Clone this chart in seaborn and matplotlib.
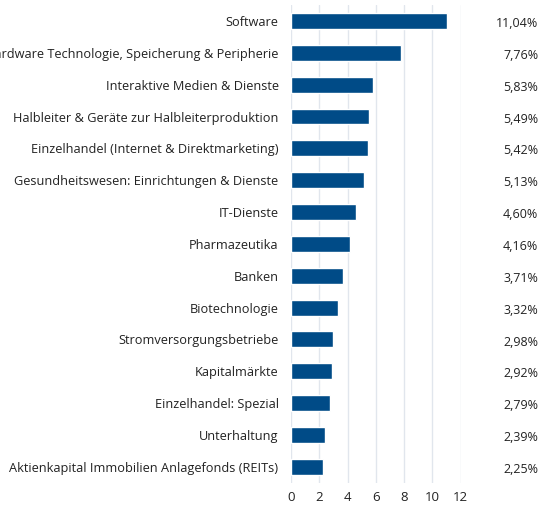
import matplotlib
matplotlib.use("Agg")
import matplotlib.pyplot as plt
import matplotlib.transforms as mtransforms
import seaborn as sns
import pandas as pd

# ----- DATEN -----
branchen = [
    "Software",
    "Hardware Technologie, Speicherung & Peripherie",
    "Interaktive Medien & Dienste",
    "Halbleiter & Geräte zur Halbleiterproduktion",
    "Einzelhandel (Internet & Direktmarketing)",
    "Gesundheitswesen: Einrichtungen & Dienste",
    "IT-Dienste",
    "Pharmazeutika",
    "Banken",
    "Biotechnologie",
    "Stromversorgungsbetriebe",
    "Kapitalmärkte",
    "Einzelhandel: Spezial",
    "Unterhaltung",
    "Aktienkapital Immobilien Anlagefonds (REITs)",
]
anteile = [11.04, 7.76, 5.83, 5.49, 5.42, 5.13, 4.60, 4.16, 3.71, 3.32, 2.98, 2.92, 2.79, 2.39, 2.25]
xticks = [0, 2, 4, 6, 8, 10, 12]

df = pd.DataFrame({"branche": branchen, "anteil": anteile})

# ----- PLOT -----
sns.set_style("white")
plt.rcParams["font.family"] = ["Open Sans", "DejaVu Sans"]

fig = plt.figure(figsize=(5.4, 5.05), dpi=100)
ax = fig.add_axes([0.539, 0.044, 0.314, 0.946])

sns.barplot(data=df, x="anteil", y="branche", color="#004b87", width=0.5,
            saturation=1, ax=ax)

ax.set_xlim(0, 12)
ax.set_ylim(14.5, -0.5)
ax.set_xticks(xticks)
ax.set_xticklabels([str(t) for t in xticks], fontsize=9.5, color="#222222")
ax.set_xlabel("")
ax.set_ylabel("")
ax.tick_params(axis="y", length=0, pad=9, labelsize=9.2, labelcolor="#222222")
ax.tick_params(axis="x", length=0, pad=6)
ax.grid(axis="x", color="#e1e6ed", linewidth=1)
ax.set_axisbelow(True)
for s in ax.spines.values():
    s.set_visible(False)
ax.set_clip_on(False)

trans = mtransforms.blended_transform_factory(fig.transFigure, ax.transData)
for i, v in enumerate(anteile):
    ax.text(0.997, i + 0.08, f"{v:.2f}%".replace(".", ","), transform=trans,
            ha="right", va="center", fontsize=9, color="#222222")

fig.savefig("out.png", dpi=100)
